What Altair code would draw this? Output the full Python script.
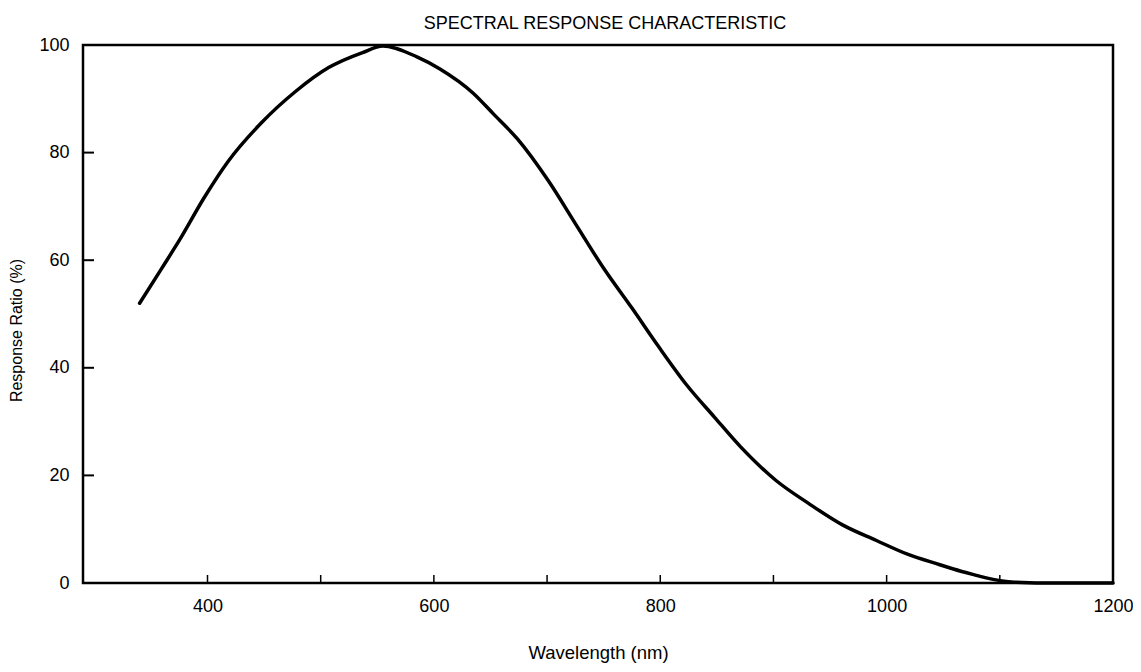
import altair as alt
import pandas as pd

# Curve (wavelength nm, response %)
wavelength = [340, 359, 376, 397, 418, 447, 478, 507, 537, 555, 585, 605, 635, 653,
              674, 701, 725, 750, 775, 799, 823, 848, 871, 902, 931, 961, 991, 1019,
              1047, 1059, 1076, 1087, 1110, 1150, 1200]
response = [52.0, 58.3, 64.0, 71.6, 78.3, 85.4, 91.4, 95.8, 98.6, 99.8, 97.8, 95.6, 91.0, 87.1,
            82.5, 74.8, 66.8, 58.5, 51.1, 43.8, 36.9, 30.8, 25.3, 19.1, 14.8, 10.8, 7.9, 5.3,
            3.4, 2.6, 1.6, 1.0, 0.2, 0.0, 0.0]

x_label_values = [400, 600, 800, 1000, 1200]
y_label_values = [0, 20, 40, 60, 80, 100]
x_tick_values = [400, 500, 600, 700, 800, 900, 1000, 1100]
y_tick_values = [20, 40, 60, 80]

FONT = "Liberation Sans"
W, H = 1030, 538

curve = pd.DataFrame({"w": wavelength, "r": response})
xt = pd.DataFrame({"w": x_tick_values})
yt = pd.DataFrame({"r": y_tick_values})

xscale = alt.Scale(domain=[290, 1200], nice=False, zero=False)
yscale = alt.Scale(domain=[0, 100], nice=False)

xaxis = alt.Axis(values=x_label_values, format="d", ticks=False, tickSize=0, domain=False,
                 grid=False, labelFlush=False, labelPadding=14,
                 labelFontSize=18, titleFontSize=18.5, titleFontWeight="normal",
                 titlePadding=28, labelFont=FONT, titleFont=FONT,
                 labelColor="black", titleColor="black")
yaxis = alt.Axis(values=y_label_values, format="d", ticks=False, tickSize=0, domain=False,
                 grid=False, labelPadding=14, labelFontSize=18,
                 titleFontSize=16, titleFontWeight="normal", titlePadding=14,
                 titleY=285, labelFont=FONT, titleFont=FONT,
                 labelColor="black", titleColor="black")

XT = "Wavelength (nm)"
YT = "Response Ratio (%)"

line = alt.Chart(curve).mark_line(
    color="black", strokeWidth=3.5, interpolate="monotone", strokeCap="round"
).encode(
    x=alt.X("w:Q", scale=xscale, title=XT, axis=xaxis),
    y=alt.Y("r:Q", scale=yscale, title=YT, axis=yaxis),
)

xticks = alt.Chart(xt).mark_rule(color="black", strokeWidth=1.5).encode(
    x=alt.X("w:Q", scale=xscale, title=XT, axis=xaxis),
    y=alt.value(H),
    y2=alt.value(H - 8),
)

yticks = alt.Chart(yt).mark_rule(color="black", strokeWidth=2).encode(
    y=alt.Y("r:Q", scale=yscale, title=YT, axis=yaxis),
    x=alt.value(0),
    x2=alt.value(11),
)

chart = alt.layer(line, xticks, yticks).properties(
    width=W, height=H,
    title=alt.TitleParams("SPECTRAL RESPONSE CHARACTERISTIC", fontSize=18, font=FONT,
                          fontWeight="normal", anchor="middle", offset=3, dx=7,
                          color="black"),
    autosize=alt.AutoSizeParams(type="none"),
    padding={"left": 75, "top": 37, "right": 20, "bottom": 81},
).configure(background="white").configure_view(stroke="black", strokeWidth=2.5)

chart.save("out.html", embed_options={"renderer": "svg", "actions": False})
